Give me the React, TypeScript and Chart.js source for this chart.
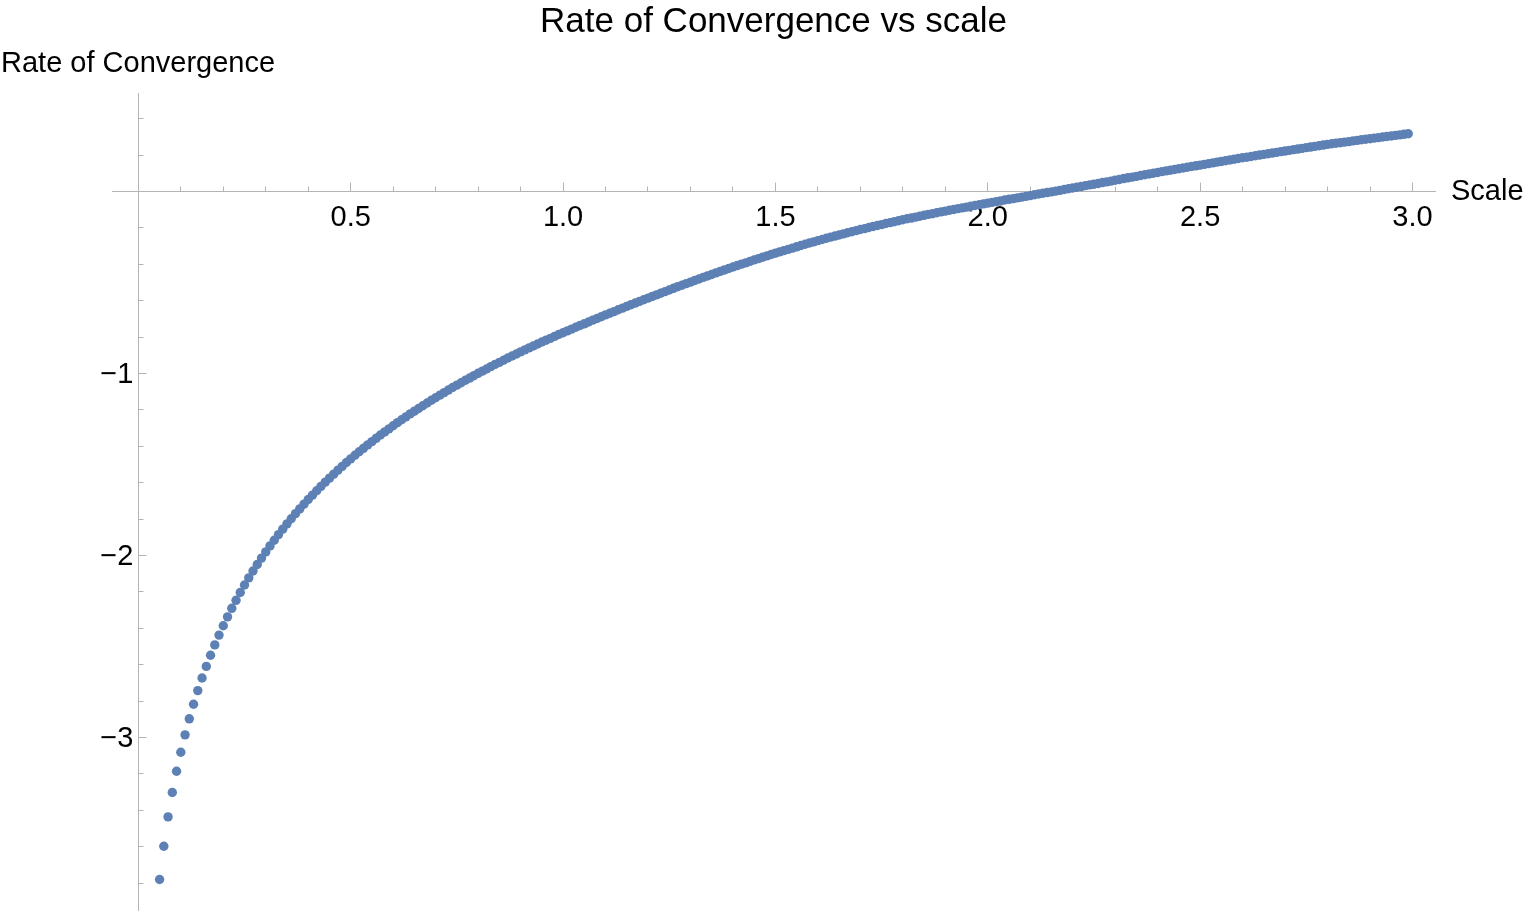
import React, { useEffect, useRef } from 'react';
import { Chart, registerables } from 'chart.js';

Chart.register(...registerables);

const FONT = '"Liberation Sans", Arial, Helvetica, sans-serif';

const chartTitle = 'Rate of Convergence vs scale';
const xAxisLabel = 'Scale';
const yAxisLabel = 'Rate of Convergence';

// sampled scale values (x)
const scaleValues = [
  0.05, 0.06, 0.07, 0.08, 0.09,
  0.10, 0.11, 0.12, 0.13, 0.14, 0.15, 0.16, 0.17, 0.18, 0.19,
  0.20, 0.21, 0.22, 0.23, 0.24, 0.25, 0.26, 0.27, 0.28, 0.29,
  0.30, 0.31, 0.32, 0.33, 0.34, 0.35, 0.36, 0.37, 0.38, 0.39,
  0.40, 0.41, 0.42, 0.43, 0.44, 0.45, 0.46, 0.47, 0.48, 0.49,
  0.50, 0.51, 0.52, 0.53, 0.54, 0.55, 0.56, 0.57, 0.58, 0.59,
  0.60, 0.61, 0.62, 0.63, 0.64, 0.65, 0.66, 0.67, 0.68, 0.69,
  0.70, 0.71, 0.72, 0.73, 0.74, 0.75, 0.76, 0.77, 0.78, 0.79,
  0.80, 0.81, 0.82, 0.83, 0.84, 0.85, 0.86, 0.87, 0.88, 0.89,
  0.90, 0.91, 0.92, 0.93, 0.94, 0.95, 0.96, 0.97, 0.98, 0.99,
  1.00, 1.01, 1.02, 1.03, 1.04, 1.05, 1.06, 1.07, 1.08, 1.09,
  1.10, 1.11, 1.12, 1.13, 1.14, 1.15, 1.16, 1.17, 1.18, 1.19,
  1.20, 1.21, 1.22, 1.23, 1.24, 1.25, 1.26, 1.27, 1.28, 1.29,
  1.30, 1.31, 1.32, 1.33, 1.34, 1.35, 1.36, 1.37, 1.38, 1.39,
  1.40, 1.41, 1.42, 1.43, 1.44, 1.45, 1.46, 1.47, 1.48, 1.49,
  1.50, 1.51, 1.52, 1.53, 1.54, 1.55, 1.56, 1.57, 1.58, 1.59,
  1.60, 1.61, 1.62, 1.63, 1.64, 1.65, 1.66, 1.67, 1.68, 1.69,
  1.70, 1.71, 1.72, 1.73, 1.74, 1.75, 1.76, 1.77, 1.78, 1.79,
  1.80, 1.81, 1.82, 1.83, 1.84, 1.85, 1.86, 1.87, 1.88, 1.89,
  1.90, 1.91, 1.92, 1.93, 1.94, 1.95, 1.96, 1.97, 1.98, 1.99,
  2.00, 2.01, 2.02, 2.03, 2.04, 2.05, 2.06, 2.07, 2.08, 2.09,
  2.10, 2.11, 2.12, 2.13, 2.14, 2.15, 2.16, 2.17, 2.18, 2.19,
  2.20, 2.21, 2.22, 2.23, 2.24, 2.25, 2.26, 2.27, 2.28, 2.29,
  2.30, 2.31, 2.32, 2.33, 2.34, 2.35, 2.36, 2.37, 2.38, 2.39,
  2.40, 2.41, 2.42, 2.43, 2.44, 2.45, 2.46, 2.47, 2.48, 2.49,
  2.50, 2.51, 2.52, 2.53, 2.54, 2.55, 2.56, 2.57, 2.58, 2.59,
  2.60, 2.61, 2.62, 2.63, 2.64, 2.65, 2.66, 2.67, 2.68, 2.69,
  2.70, 2.71, 2.72, 2.73, 2.74, 2.75, 2.76, 2.77, 2.78, 2.79,
  2.80, 2.81, 2.82, 2.83, 2.84, 2.85, 2.86, 2.87, 2.88, 2.89,
  2.90, 2.91, 2.92, 2.93, 2.94, 2.95, 2.96, 2.97, 2.98, 2.99,
];

// rate of convergence (y)
const rateValues = [
  -3.780, -3.597, -3.436, -3.302, -3.185,
  -3.081, -2.985, -2.897, -2.817, -2.742, -2.673, -2.609, -2.548, -2.491, -2.437,
  -2.386, -2.337, -2.290, -2.246, -2.203, -2.162, -2.123, -2.085, -2.049, -2.014,
  -1.980, -1.947, -1.916, -1.885, -1.855, -1.826, -1.798, -1.770, -1.744, -1.718,
  -1.692, -1.668, -1.644, -1.620, -1.597, -1.575, -1.553, -1.531, -1.510, -1.489,
  -1.469, -1.449, -1.430, -1.411, -1.392, -1.374, -1.356, -1.338, -1.321, -1.304,
  -1.287, -1.270, -1.254, -1.238, -1.222, -1.207, -1.192, -1.177, -1.162, -1.147,
  -1.133, -1.119, -1.105, -1.091, -1.077, -1.064, -1.051, -1.037, -1.025, -1.012,
  -0.999, -0.987, -0.975, -0.962, -0.950, -0.939, -0.927, -0.915, -0.904, -0.893,
  -0.881, -0.870, -0.859, -0.849, -0.838, -0.827, -0.817, -0.807, -0.796, -0.786,
  -0.776, -0.766, -0.756, -0.746, -0.736, -0.727, -0.717, -0.707, -0.698, -0.688,
  -0.678, -0.669, -0.660, -0.650, -0.641, -0.631, -0.622, -0.613, -0.604, -0.595,
  -0.586, -0.577, -0.568, -0.559, -0.550, -0.541, -0.532, -0.523, -0.515, -0.506,
  -0.498, -0.489, -0.481, -0.472, -0.464, -0.456, -0.447, -0.439, -0.431, -0.423,
  -0.415, -0.407, -0.399, -0.392, -0.384, -0.376, -0.369, -0.361, -0.354, -0.346,
  -0.339, -0.332, -0.325, -0.318, -0.311, -0.304, -0.297, -0.290, -0.283, -0.277,
  -0.270, -0.264, -0.257, -0.251, -0.245, -0.239, -0.233, -0.227, -0.221, -0.215,
  -0.209, -0.204, -0.198, -0.192, -0.187, -0.182, -0.176, -0.171, -0.166, -0.161,
  -0.155, -0.150, -0.146, -0.141, -0.136, -0.131, -0.126, -0.122, -0.117, -0.112,
  -0.108, -0.103, -0.099, -0.094, -0.090, -0.086, -0.081, -0.077, -0.073, -0.068,
  -0.064, -0.060, -0.056, -0.052, -0.047, -0.043, -0.039, -0.035, -0.031, -0.027,
  -0.023, -0.018, -0.014, -0.010, -0.006, -0.002, 0.002, 0.006, 0.011, 0.015,
  0.019, 0.023, 0.027, 0.032, 0.036, 0.040, 0.044, 0.049, 0.053, 0.057,
  0.062, 0.066, 0.071, 0.075, 0.079, 0.083, 0.088, 0.092, 0.096, 0.100,
  0.104, 0.109, 0.113, 0.117, 0.121, 0.125, 0.129, 0.133, 0.137, 0.141,
  0.145, 0.149, 0.153, 0.157, 0.161, 0.165, 0.169, 0.173, 0.177, 0.181,
  0.185, 0.188, 0.192, 0.196, 0.200, 0.204, 0.207, 0.211, 0.215, 0.219,
  0.222, 0.226, 0.230, 0.233, 0.237, 0.241, 0.244, 0.248, 0.251, 0.255,
  0.259, 0.262, 0.265, 0.268, 0.271, 0.274, 0.278, 0.281, 0.284, 0.287,
  0.290, 0.293, 0.296, 0.299, 0.302, 0.305, 0.308, 0.311, 0.314, 0.317,
];

const xMajorTicks = [0.5, 1.0, 1.5, 2.0, 2.5, 3.0];
const xMinorTicks = [
  0.1, 0.2, 0.3, 0.4, 0.5, 0.6, 0.7, 0.8, 0.9, 1.0,
  1.1, 1.2, 1.3, 1.4, 1.5, 1.6, 1.7, 1.8, 1.9, 2.0,
  2.1, 2.2, 2.3, 2.4, 2.5, 2.6, 2.7, 2.8, 2.9, 3.0,
];
const yMajorTicks = [-3, -2, -1];
const yMinorTicks = [
  0.4, 0.2, -0.2, -0.4, -0.6, -0.8, -1.0, -1.2, -1.4, -1.6, -1.8,
  -2.0, -2.2, -2.4, -2.6, -2.8, -3.0, -3.2, -3.4, -3.6, -3.8,
];

const X_MIN = -0.062;
const X_MAX = 3.053;
const Y_MIN = -3.949;
const Y_MAX = 0.541;

const POINT_COLOR = '#5E81B5';
const AXIS_COLOR = '#b4b4b4';

const formatY = (v: number) => (v < 0 ? '\u2212' + Math.abs(v) : String(v));

const setTicks = (list: number[]) => (scale: any) => {
  scale.ticks = list.map((v) => ({ value: v }));
};

const axisTextPlugin = {
  id: 'axisText',
  afterDraw(chart: any) {
    const { ctx, chartArea, scales } = chart;
    const xs = scales.x;
    const ys = scales.y;
    ctx.save();
    ctx.fillStyle = '#000000';
    ctx.font = `29px ${FONT}`;
    ctx.textBaseline = 'middle';
    ctx.textAlign = 'right';
    const x0 = xs.getPixelForValue(0);
    yMajorTicks.forEach((v) => {
      ctx.fillText(formatY(v), x0 - 5, ys.getPixelForValue(v) + 1);
    });
    ctx.textAlign = 'left';
    ctx.fillText(yAxisLabel, chartArea.left - 111, chartArea.top - 29);
    ctx.fillText(xAxisLabel, chartArea.right + 16, ys.getPixelForValue(0) + 1);
    ctx.restore();
  },
};

export default function App() {
  const canvasRef = useRef<HTMLCanvasElement>(null);

  useEffect(() => {
    const canvas = canvasRef.current;
    if (!canvas) return;
    const points = scaleValues.map((x, i) => ({ x, y: rateValues[i] }));

    const chart = new Chart(canvas, {
      type: 'scatter',
      data: {
        datasets: [
          {
            label: yAxisLabel,
            data: points,
            backgroundColor: POINT_COLOR,
            borderColor: POINT_COLOR,
            borderWidth: 0,
            pointRadius: 4.7,
            pointHoverRadius: 4.7,
            showLine: false,
          },
        ],
      },
      options: {
        responsive: false,
        animation: false,
        events: [],
        devicePixelRatio: 1,
        layout: { padding: { left: 112, right: 93, top: 0, bottom: 3 } },
        plugins: {
          legend: { display: false },
          tooltip: { enabled: false },
          title: {
            display: true,
            text: chartTitle,
            fullSize: false,
            color: '#000000',
            font: { family: FONT, size: 35, weight: 'normal', lineHeight: 1.2 },
            padding: { top: 1.5, bottom: 49.5 },
          },
        },
        scales: {
          x: {
            type: 'linear',
            position: { y: 0 } as any,
            min: X_MIN,
            max: X_MAX,
            bounds: 'data',
            afterBuildTicks: setTicks(xMinorTicks),
            ticks: { display: false },
            grid: {
              display: true,
              drawOnChartArea: false,
              drawTicks: true,
              tickLength: -5.5,
              tickColor: AXIS_COLOR,
              tickWidth: 1,
            },
            border: { display: true, color: AXIS_COLOR, width: 1 },
          },
          xMajor: {
            type: 'linear',
            axis: 'x',
            position: { y: 0 } as any,
            min: X_MIN,
            max: X_MAX,
            bounds: 'data',
            afterBuildTicks: setTicks(xMajorTicks),
            ticks: {
              display: true,
              autoSkip: false,
              maxRotation: 0,
              minRotation: 0,
              padding: 17.6,
              color: '#000000',
              font: { family: FONT, size: 29 },
              callback: (v: any) => Number(v).toFixed(1),
            },
            grid: {
              display: true,
              drawOnChartArea: false,
              drawTicks: true,
              tickLength: -8.5,
              tickColor: AXIS_COLOR,
              tickWidth: 1,
            },
            border: { display: false },
          },
          y: {
            type: 'linear',
            position: { x: 0 } as any,
            min: Y_MIN,
            max: Y_MAX,
            bounds: 'data',
            afterBuildTicks: setTicks(yMinorTicks),
            ticks: { display: false },
            grid: {
              display: true,
              drawOnChartArea: false,
              drawTicks: true,
              tickLength: -5.5,
              tickColor: AXIS_COLOR,
              tickWidth: 1,
            },
            border: { display: true, color: AXIS_COLOR, width: 1 },
          },
          yMajor: {
            type: 'linear',
            axis: 'y',
            position: { x: 0 } as any,
            min: Y_MIN,
            max: Y_MAX,
            bounds: 'data',
            afterBuildTicks: setTicks(yMajorTicks),
            ticks: { display: false },
            grid: {
              display: true,
              drawOnChartArea: false,
              drawTicks: true,
              tickLength: -8.5,
              tickColor: AXIS_COLOR,
              tickWidth: 1,
            },
            border: { display: false },
          },
        },
      } as any,
      plugins: [axisTextPlugin],
    });

    return () => chart.destroy();
  }, []);

  return (
    <div
      style={{
        position: 'absolute',
        left: 0,
        top: 0,
        width: 1528,
        height: 915,
        background: '#ffffff',
      }}
    >
      <canvas
        ref={canvasRef}
        width={1528}
        height={915}
        style={{ display: 'block', width: 1528, height: 915 }}
      />
    </div>
  );
}
